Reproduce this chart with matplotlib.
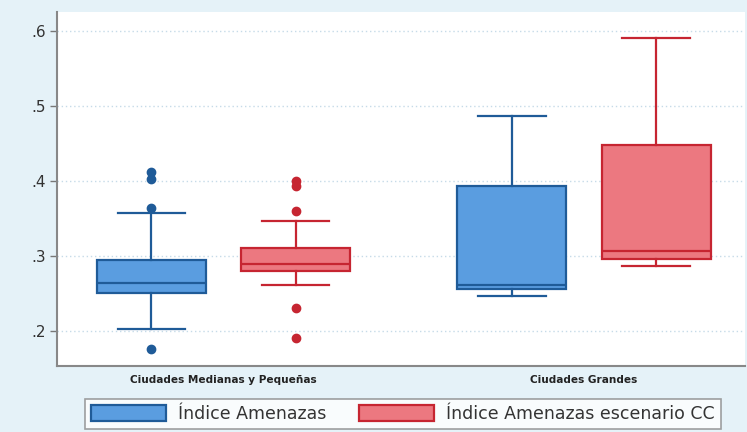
import numpy as np
import matplotlib
matplotlib.use("Agg")
import matplotlib.pyplot as plt
from matplotlib.patches import Patch

# categories and series
groups = ["Ciudades Medianas y Pequeñas", "Ciudades Grandes"]
series = ["Índice Amenazas", "Índice Amenazas escenario CC"]

# box statistics (per group)
base_whislo = [0.202, 0.246]
base_q1 = [0.251, 0.256]
base_med = [0.264, 0.261]
base_q3 = [0.295, 0.393]
base_whishi = [0.357, 0.486]
base_fliers = [[0.412, 0.403, 0.364, 0.176], []]

cc_whislo = [0.261, 0.286]
cc_q1 = [0.280, 0.296]
cc_med = [0.289, 0.307]
cc_q3 = [0.310, 0.448]
cc_whishi = [0.346, 0.591]
cc_fliers = [[0.400, 0.393, 0.360, 0.230, 0.190], []]

yticks = [0.2, 0.3, 0.4, 0.5, 0.6]
ytick_labels = [".2", ".3", ".4", ".5", ".6"]

blue_fill, blue_edge = "#5a9de0", "#1f5b98"
red_fill, red_edge = "#ec7880", "#c62531"
bg = "#e5f2f8"

fig = plt.figure(figsize=(7.47, 4.32), dpi=100, facecolor=bg)
ax = fig.add_axes([57 / 747, 1 - 366 / 432, 688 / 747, 354 / 432])
ax.set_facecolor("white")


def make_stats(lo, q1, med, q3, hi, fl):
    return [dict(whislo=a, q1=b, med=c, q3=d, whishi=e, fliers=f)
            for a, b, c, d, e, f in zip(lo, q1, med, q3, hi, fl)]


offset = 0.2
width = 0.302
pos = np.arange(1, len(groups) + 1)

specs = [
    (make_stats(base_whislo, base_q1, base_med, base_q3, base_whishi, base_fliers),
     pos - offset, blue_fill, blue_edge),
    (make_stats(cc_whislo, cc_q1, cc_med, cc_q3, cc_whishi, cc_fliers),
     pos + offset, red_fill, red_edge),
]
for stats, p, fc, ec in specs:
    ax.bxp(stats, positions=p, widths=width, patch_artist=True,
           showfliers=True, manage_ticks=False,
           boxprops=dict(facecolor=fc, edgecolor=ec, linewidth=1.6),
           medianprops=dict(color=ec, linewidth=1.6),
           whiskerprops=dict(color=ec, linewidth=1.6),
           capprops=dict(color=ec, linewidth=1.6),
           capwidths=width * 0.62,
           flierprops=dict(marker="o", markerfacecolor=ec, markeredgecolor=ec,
                           markersize=6, linestyle="none"))

ax.set_xlim(0.538, 2.4466)
ax.set_ylim(0.153, 0.625)
ax.set_yticks(yticks)
ax.set_yticklabels(ytick_labels, fontsize=11, color="#333333")
ax.set_xticks([])
ax.tick_params(axis="y", length=5, width=1, color="#777777", pad=3)
ax.grid(axis="y", linestyle=(0, (1, 2)), color="#c6dbe8", linewidth=1)
ax.set_axisbelow(True)

for s in ["top", "right"]:
    ax.spines[s].set_visible(False)
for s in ["left", "bottom"]:
    ax.spines[s].set_color("#888888")
    ax.spines[s].set_linewidth(1.5)

for g, x in zip(groups, pos):
    ax.text(x, -0.04, g, transform=ax.get_xaxis_transform(), ha="center",
            va="center", fontsize=7.6, fontweight="bold", color="#222222")

handles = [Patch(facecolor=blue_fill, edgecolor=blue_edge, linewidth=1.6, label=series[0]),
           Patch(facecolor=red_fill, edgecolor=red_edge, linewidth=1.6, label=series[1])]
leg = fig.legend(handles=handles, loc="center", bbox_to_anchor=(403 / 747, 1 - 414 / 432),
                 ncol=2, fontsize=12.5, frameon=True, fancybox=False,
                 handlelength=4.3, handleheight=1.0, columnspacing=1.9,
                 borderpad=0.35, handletextpad=0.7)
leg.get_frame().set_edgecolor("#888888")
leg.get_frame().set_linewidth(1.2)
for t in leg.get_texts():
    t.set_color("#333333")

fig.savefig("out.png", dpi=100, facecolor=bg)
